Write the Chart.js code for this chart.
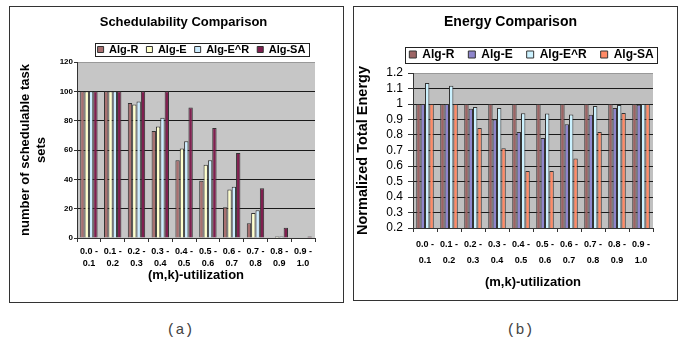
<!DOCTYPE html>
<html><head><meta charset="utf-8">
<script src="https://cdn.jsdelivr.net/npm/chart.js@4.4.0/dist/chart.umd.min.js"></script>
<style>
body{margin:0;background:#fff;width:686px;height:344px;position:relative;overflow:hidden;font-family:"Liberation Sans",Arial,sans-serif}
.frame{position:absolute;border:1px solid #333;box-sizing:border-box}
#fa{left:9px;top:6px;width:335px;height:297px}
#fb{left:353px;top:6px;width:325px;height:295px}
canvas{position:absolute}
#ca{left:10px;top:7px}
#cb{left:354px;top:7px}
.cap{position:absolute;font-family:"Liberation Mono","DejaVu Sans Mono",monospace;font-size:15px;color:#444;top:322px;width:60px;text-align:center}
</style></head>
<body>
<div class="frame" id="fa"></div>
<div class="frame" id="fb"></div>
<canvas id="ca" width="332" height="295"></canvas>
<canvas id="cb" width="322" height="293"></canvas>
<div class="cap" style="left:150px">(a)</div>
<div class="cap" style="left:490px">(b)</div>
<script>
// ---- data ----
const categories = [['0.0 -','0.1'],['0.1 -','0.2'],['0.2 -','0.3'],['0.3 -','0.4'],['0.4 -','0.5'],
                    ['0.5 -','0.6'],['0.6 -','0.7'],['0.7 -','0.8'],['0.8 -','0.9'],['0.9 -','1.0']];
const seriesNames = ['Alg-R','Alg-E','Alg-E^R','Alg-SA'];
const schedAlgR  = [100,100,92,73,53,39,21,10,0,0];
const schedAlgE  = [100,100,91,76,61,50,33,17,1,0];
const schedAlgER = [100,100,93,82,66,53,35,19,1,0];
const schedAlgSA = [100,100,100,100,89,75,58,34,7,1];
const energyAlgR  = [1,1,1,1,1,1,1,1,1,1];
const energyAlgE  = [1,1,0.97,0.9,0.82,0.78,0.87,0.93,0.975,0.995];
const energyAlgER = [1.135,1.118,0.98,0.975,0.94,0.938,0.933,0.987,0.993,1.0];
const energyAlgSA = [1,1,0.845,0.715,0.567,0.567,0.649,0.819,0.942,1.0];
const schedTicks = [0,20,40,60,80,100,120];
const energyTicks = [0.2,0.3,0.4,0.5,0.6,0.7,0.8,0.9,1,1.1,1.2];

const FONT = '"Liberation Sans", Arial, sans-serif';

const decor = {
  id: 'decor',
  beforeDraw(chart, args, opts) {
    const a = chart.chartArea, c = chart.ctx;
    c.save(); c.fillStyle = opts.bg; c.fillRect(a.left, a.top, a.right - a.left, a.bottom - a.top); c.restore();
  },
  afterLayout(chart, args, opts) {
    const t = chart.titleBlock, l = chart.legend;
    if (t) { t.left += opts.titleDx; t.right += opts.titleDx; }
    if (l) { l.left += opts.legendDx; l.right += opts.legendDx; l.top += opts.legendDy; l.bottom += opts.legendDy; }
  },
  afterDraw(chart, args, opts) {
    const hb = chart.legend && chart.legend.legendHitBoxes;
    if (!hb || !hb.length) return;
    let l = Infinity, r = -Infinity, t = Infinity, b = -Infinity;
    hb.forEach(h => { l = Math.min(l, h.left); r = Math.max(r, h.left + h.width); t = Math.min(t, h.top); b = Math.max(b, h.top + h.height); });
    const c = chart.ctx;
    c.save(); c.strokeStyle = '#222'; c.lineWidth = 1;
    c.strokeRect(Math.round(l - opts.boxPadX) + 0.5, Math.round(t - opts.boxPadY) + 0.5,
                 Math.round(r - l + 2 * opts.boxPadX), Math.round(b - t + 2 * opts.boxPadY));
    c.restore();
  }
};

function ds(label, data, color) {
  return { label, data, backgroundColor: color, borderColor: '#333', borderWidth: 1,
           categoryPercentage: 0.73, barPercentage: 1.0 };
}

function makeChart(id, cfg) {
  const gridColor = ctx => (ctx.tick && ctx.tick.value === cfg.yMax) ? '#999' : '#1a1a1a';
  return new Chart(document.getElementById(id), {
    type: 'bar',
    data: { labels: categories, datasets: cfg.datasets },
    plugins: [decor],
    options: {
      responsive: false, animation: false,
      layout: { padding: cfg.padding },
      plugins: {
        tooltip: { enabled: false },
        decor: cfg.decor,
        title: { display: true, text: cfg.title, color: '#000',
                 font: { family: FONT, size: cfg.titleSize, weight: 'bold', lineHeight: 1.2 },
                 padding: cfg.titlePad },
        legend: { position: 'top',
                  labels: { color: '#000', boxWidth: cfg.legBox, boxHeight: cfg.legBox, padding: cfg.legPad,
                            font: { family: FONT, size: cfg.legSize, weight: 'bold' } } }
      },
      scales: {
        x: {
          afterFit: s => { s.height = cfg.xHeight; },
          grid: { offset: true, drawOnChartArea: false, drawTicks: true, tickLength: 4, color: '#333' },
          border: { color: '#333', width: 1 },
          ticks: { color: '#000', maxRotation: 0, autoSkip: false, padding: cfg.xTickPad,
                   font: { family: FONT, size: 9, weight: 'bold', lineHeight: cfg.xTickLH } },
          title: { display: true, text: '(m,k)-utilization', color: '#000', padding: { top: 0, bottom: 0 },
                   font: { family: FONT, size: 13, weight: 'bold', lineHeight: 1.1 } }
        },
        y: {
          min: cfg.yMin, max: cfg.yMax,
          afterFit: s => { s.width = cfg.yWidth; },
          afterBuildTicks: s => { s.ticks = cfg.yTicks.map(v => ({ value: v })); },
          grid: { color: gridColor, tickColor: '#333', tickLength: cfg.yTickLen, drawTicks: true },
          border: { color: '#333', width: 1 },
          ticks: { color: '#000', padding: cfg.yTickPad, autoSkip: false, callback: v => String(+Number(v).toFixed(1)),
                   font: { family: FONT, size: cfg.yTickSize, weight: cfg.yTickWeight } },
          title: { display: true, text: cfg.yTitle, color: '#000', padding: { top: cfg.yTitlePad, bottom: 0 },
                   font: { family: FONT, size: cfg.yTitleSize, weight: 'bold', lineHeight: cfg.yTitleLH } }
        }
      }
    }
  });
}

makeChart('ca', {
  datasets: [ds(seriesNames[0], schedAlgR, '#a87070'), ds(seriesNames[1], schedAlgE, '#ffffcc'),
             ds(seriesNames[2], schedAlgER, '#ccecff'), ds(seriesNames[3], schedAlgSA, '#7f1f4f')],
  title: 'Schedulability Comparison', titleSize: 13, titlePad: { top: 7.2, bottom: 3.2 },
  legBox: 6, legPad: 8, legSize: 11,
  padding: { left: 4, right: 27, top: 0, bottom: 19 },
  xHeight: 45, xTickPad: 3.5, xTickLH: 1.37,
  yMin: 0, yMax: 120, yTicks: schedTicks, yWidth: 63, yTickLen: 3, yTickPad: 1, yTickSize: 8, yTickWeight: 'bold',
  yTitle: ['number of schedulable task', 'sets'], yTitleSize: 13, yTitleLH: 1.3, yTitlePad: 2.5,
  decor: { bg: '#c6c6c6', titleDx: 19, legendDx: 37, legendDy: 3, boxPadX: 3, boxPadY: 1 }
});

makeChart('cb', {
  datasets: [ds(seriesNames[0], energyAlgR, '#9c6464'), ds(seriesNames[1], energyAlgE, '#8f86cc'),
             ds(seriesNames[2], energyAlgER, '#ccf2ff'), ds(seriesNames[3], energyAlgSA, '#ff8a66')],
  title: 'Energy Comparison', titleSize: 14, titlePad: { top: 6.6, bottom: 6.6 },
  legBox: 7, legPad: 14, legSize: 12,
  padding: { left: 1, right: 23, top: 0, bottom: 10 },
  xHeight: 62, xTickPad: 5.5, xTickLH: 1.67,
  yMin: 0.2, yMax: 1.2, yTicks: energyTicks, yWidth: 58, yTickLen: 5, yTickPad: 5, yTickSize: 12, yTickWeight: 'normal',
  yTitle: 'Normalized Total Energy', yTitleSize: 14.5, yTitleLH: 1, yTitlePad: 1,
  decor: { bg: '#c0c0c0', titleDx: 6.5, legendDx: 27.5, legendDy: -2.5, boxPadX: 4, boxPadY: 2 }
});
</script>
</body></html>
